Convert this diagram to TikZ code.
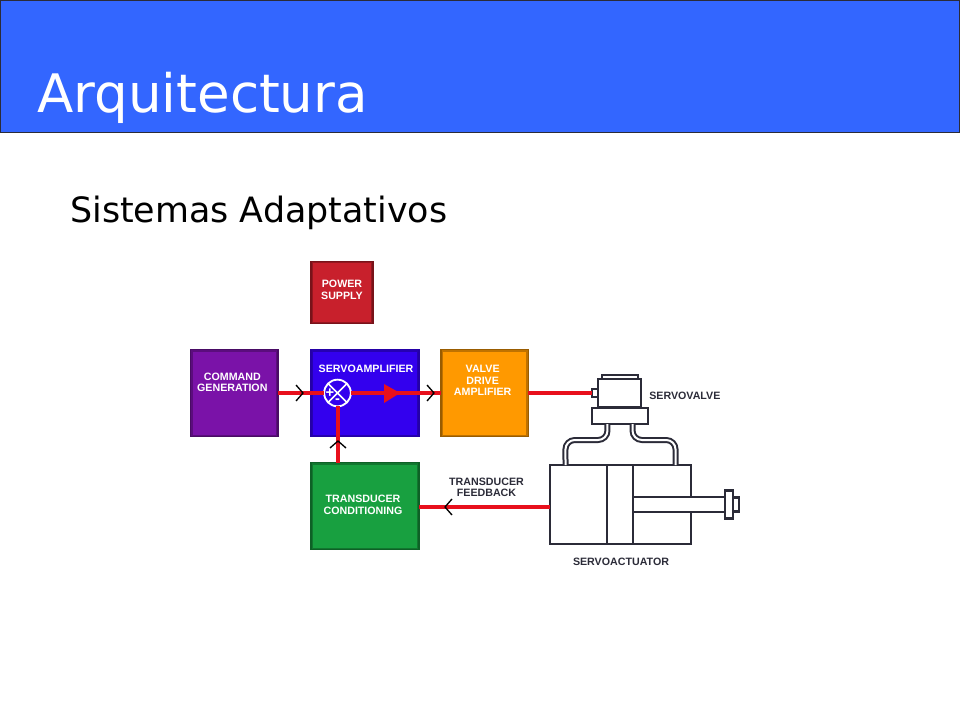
\documentclass[tikz,border=0pt]{standalone}
\usepackage{fontspec}
\setmainfont{Liberation Sans}
\newfontfamily\slidefont{DejaVu Sans}
\usetikzlibrary{positioning}
\definecolor{headblue}{HTML}{3366FF}
\definecolor{powerred}{HTML}{C8202C}
\definecolor{cmdpurple}{HTML}{7A12A8}
\definecolor{servoblue}{HTML}{3300EE}
\definecolor{valveorange}{HTML}{FF9900}
\definecolor{condgreen}{HTML}{18A040}
\definecolor{linered}{HTML}{E8101C}
\definecolor{partdark}{HTML}{2B2B38}

\begin{document}
\begin{tikzpicture}[
			x=0.75pt, y=-0.75pt,
			block/.style = {rectangle, outer sep=0pt, inner sep=0pt, line width=1pt,
				path picture={\draw[black, opacity=0.25, line width=3pt] (path picture bounding box.south west) rectangle (path picture bounding box.north east);}},
			bigbox/.style = {block, minimum width=81pt, minimum height=65.25pt},
			widebox/.style = {block, minimum width=65.5pt, minimum height=65.25pt},
			boxtext/.style = {inner sep=0pt, align=center, text=white, font=\bfseries\fontsize{8}{8.7}\selectfont},
			part/.style = {rectangle, draw=partdark, fill=white, line width=1.7pt, outer sep=0pt, inner sep=0pt},
			pipe/.style = {draw=partdark, line width=1.5pt, double=white, double distance=1.5pt, rounded corners=7pt},
			signal/.style = {draw=linered, line width=3pt},
			chevron/.style = {draw=black, line width=1pt},
			tag/.style = {font=\bfseries\fontsize{8}{8.7}\selectfont, text=partdark, align=center, inner sep=0pt}]

			\useasboundingbox (0,0) rectangle (960,720);

			% slide header
			\draw[fill=headblue, draw=partdark, line width=0.75pt] (0.5,0.5) rectangle (959.5,133);
			\node[anchor=base west, inner sep=0pt, text=white, font=\slidefont\fontsize{39.8}{44}\selectfont] (title) at (37,113) {Arquitectura};
			\node[anchor=base west, inner sep=0pt, text=black, font=\slidefont\fontsize{26.15}{30}\selectfont] (subtitle) at (70,223) {Sistemas Adaptativos};

			% hydraulic lines go under the parts
			\node[part, minimum width=105.75pt, minimum height=59.25pt] (cyl) at (620.5,504.5) {};
			\node[part, minimum width=42pt, minimum height=12pt] (vbase) at (620,416) {};

			\draw[pipe] ([xshift=-9.4pt]vbase.south) -- ++(0,16) -- ++(-42,0) -- ([xshift=-41.25pt]cyl.north);
			\draw[pipe] ([xshift=9.4pt]vbase.south) -- ++(0,16) -- ++(43,0) -- ([xshift=41.25pt]cyl.north);

			\node[part, minimum width=27pt, minimum height=3pt] (vcap) at (620,377) {};
			\node[part, minimum width=32pt, minimum height=21pt] (vbody) at (619.5,393) {};
			\node[part, minimum width=4.5pt, minimum height=6pt, left=0pt of vbody] (vstub) {};

			\node[part, minimum width=19.5pt, minimum height=59.25pt] (piston) at (620,504.5) {};
			\node[part, minimum width=69pt, minimum height=11.25pt, right=0pt of piston] (rod) {};
			\node[part, minimum width=6pt, minimum height=21pt, right=0pt of rod] (flange) {};
			\node[part, minimum width=4.5pt, minimum height=10.5pt, right=0pt of flange] (rodtip) {};

			% the blocks
			\node[bigbox, fill=servoblue, draw=servoblue!70!black] (servo) at (365,393) {};
			\node[block, fill=powerred, draw=powerred!60!black, minimum width=46.5pt, minimum height=46.5pt, above=19.5pt of servo.north west, anchor=south west] (power) {};
			\node[widebox, fill=cmdpurple, draw=cmdpurple!60!black, left=24.75pt of servo] (command) {};
			\node[widebox, fill=valveorange, draw=valveorange!60!black, right=16.5pt of servo] (valve) {};
			\node[bigbox, fill=condgreen, draw=condgreen!60!black, below=19.5pt of servo] (cond) {};

			\node[boxtext] (servotext) at (366,369) {SERVOAMPLIFIER};
			\node[boxtext, yshift=2pt] (powertext) at (power) {POWER\\SUPPLY};
			\node[boxtext, xshift=-1.5pt, yshift=8pt] (commandtext) at (command) {COMMAND\\GENERATION};
			\node[boxtext, xshift=-1.5pt, yshift=9.5pt] (valvetext) at (valve) {VALVE\\DRIVE\\AMPLIFIER};
			\node[boxtext, xshift=-1.5pt, yshift=1pt] (condtext) at (cond) {TRANSDUCER\\CONDITIONING};

			% summing point
			\node[circle, draw=white, fill=servoblue, line width=1.4pt, minimum size=20pt, inner sep=0pt, outer sep=0pt] (sum) at (337.5,393) {};
			\draw[white, line width=1.2pt] (sum.45) -- (sum.225) (sum.135) -- (sum.315);
			\node[inner sep=0pt, text=white, font=\bfseries\fontsize{11}{11}\selectfont] (plus) at (330,393) {+};
			\node[inner sep=0pt, text=white, font=\bfseries\fontsize{11}{11}\selectfont] (minus) at (337.5,401.5) {-};

			% signal lines
			\draw[signal] (command.east) -- (sum.west);
			\draw[signal] (sum.east) -- (valve.west);
			\draw[signal] (sum.south) -- (sum.south |- cond.north);
			\draw[signal] (valve.east) -- (vstub.west);
			\draw[signal] ([yshift=-0.75pt]cond.east) -- ([yshift=-0.75pt]cond.east -| cyl.west);
			\fill[linered] (384,384) -- (400,393) -- (384,403) -- cycle;

			\foreach \xpos/\ypos/\ang in {303/393/0, 434/393/0, 338/441/90, 445/507/180}
			\draw[chevron, shift={(\xpos,\ypos)}, rotate=\ang] (-7,-8) -- (0,0) -- (-7,8);

			% labels
			\node[tag, anchor=west] (lblvalve) at (649,396) {SERVOVALVE};
			\node[tag] (lblfeed) at (486.5,487.5) {TRANSDUCER\\FEEDBACK};
			\node[tag] (lblact) at (621,562) {SERVOACTUATOR};
\end{tikzpicture}
\end{document}
